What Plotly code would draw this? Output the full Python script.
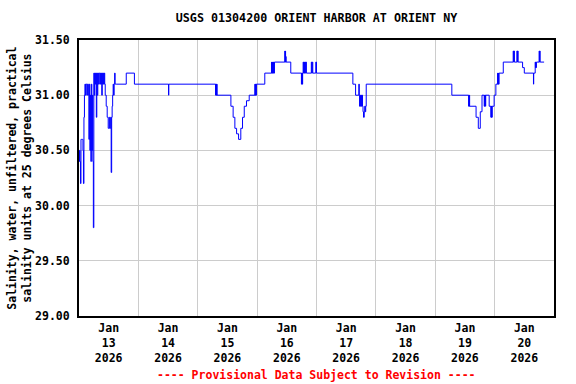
import plotly.graph_objects as go

# ---------------- data ----------------
times = [
    # Jan 13 early, noisy period
    "2026-01-13 00:00", "2026-01-13 00:12", "2026-01-13 00:24", "2026-01-13 00:36",
    "2026-01-13 00:48", "2026-01-13 01:00", "2026-01-13 01:12", "2026-01-13 01:24",
    "2026-01-13 01:36", "2026-01-13 01:48", "2026-01-13 02:00", "2026-01-13 02:12",
    "2026-01-13 02:24", "2026-01-13 02:36", "2026-01-13 02:48", "2026-01-13 03:00",
    "2026-01-13 03:12", "2026-01-13 03:24", "2026-01-13 03:36", "2026-01-13 03:48",
    "2026-01-13 04:00", "2026-01-13 04:12", "2026-01-13 04:24", "2026-01-13 04:36",
    "2026-01-13 04:48", "2026-01-13 05:00", "2026-01-13 05:12", "2026-01-13 05:24",
    "2026-01-13 05:36", "2026-01-13 05:48", "2026-01-13 06:00", "2026-01-13 06:12",
    "2026-01-13 06:24", "2026-01-13 06:36", "2026-01-13 06:48", "2026-01-13 07:00",
    "2026-01-13 07:12", "2026-01-13 07:24", "2026-01-13 07:36", "2026-01-13 07:48",
    "2026-01-13 08:00", "2026-01-13 08:12", "2026-01-13 08:24", "2026-01-13 08:36",
    "2026-01-13 08:48", "2026-01-13 09:00", "2026-01-13 09:12", "2026-01-13 09:24",
    "2026-01-13 09:36", "2026-01-13 09:48", "2026-01-13 10:00", "2026-01-13 10:12",
    "2026-01-13 10:24", "2026-01-13 10:36", "2026-01-13 10:48", "2026-01-13 11:00",
    "2026-01-13 11:12", "2026-01-13 11:24", "2026-01-13 11:36", "2026-01-13 11:48",
    "2026-01-13 12:00", "2026-01-13 12:12", "2026-01-13 12:24", "2026-01-13 12:36",
    "2026-01-13 12:48", "2026-01-13 13:00", "2026-01-13 13:12", "2026-01-13 13:24",
    "2026-01-13 13:36", "2026-01-13 13:48", "2026-01-13 14:00", "2026-01-13 14:12",
    "2026-01-13 14:24", "2026-01-13 14:36", "2026-01-13 14:48", "2026-01-13 15:00",
    "2026-01-13 19:06", "2026-01-13 22:24",
    # Jan 14
    "2026-01-14 12:12", "2026-01-14 12:18",
    # Jan 15
    "2026-01-15 07:12", "2026-01-15 07:18", "2026-01-15 07:24", "2026-01-15 07:30",
    "2026-01-15 07:36", "2026-01-15 07:42", "2026-01-15 07:48",
    "2026-01-15 13:24", "2026-01-15 14:18", "2026-01-15 15:00", "2026-01-15 15:42",
    "2026-01-15 16:30", "2026-01-15 17:24", "2026-01-15 18:06", "2026-01-15 18:48",
    "2026-01-15 19:42", "2026-01-15 20:48",
    "2026-01-15 23:06", "2026-01-15 23:12", "2026-01-15 23:18", "2026-01-15 23:24",
    "2026-01-15 23:30", "2026-01-15 23:36", "2026-01-15 23:42",
    # Jan 16
    "2026-01-16 03:06",
    "2026-01-16 05:48", "2026-01-16 05:54", "2026-01-16 06:06", "2026-01-16 06:12",
    "2026-01-16 06:24", "2026-01-16 06:30", "2026-01-16 06:42", "2026-01-16 06:48",
    "2026-01-16 07:00",
    "2026-01-16 11:12", "2026-01-16 11:18", "2026-01-16 11:24", "2026-01-16 11:30",
    "2026-01-16 11:36", "2026-01-16 11:42",
    "2026-01-16 13:36",
    "2026-01-16 17:54", "2026-01-16 18:00", "2026-01-16 18:06", "2026-01-16 18:12",
    "2026-01-16 18:18", "2026-01-16 18:24",
    "2026-01-16 18:36", "2026-01-16 18:48", "2026-01-16 19:00", "2026-01-16 19:06",
    "2026-01-16 19:18", "2026-01-16 19:30", "2026-01-16 19:42", "2026-01-16 19:54",
    "2026-01-16 21:54", "2026-01-16 22:06", "2026-01-16 22:18", "2026-01-16 22:30",
    "2026-01-16 23:42", "2026-01-17 00:00",
    # Jan 17
    "2026-01-17 14:42", "2026-01-17 15:48", "2026-01-17 17:06", "2026-01-17 17:18",
    "2026-01-17 17:24", "2026-01-17 17:36", "2026-01-17 17:48", "2026-01-17 18:00",
    "2026-01-17 18:12", "2026-01-17 18:24", "2026-01-17 18:36", "2026-01-17 18:48",
    "2026-01-17 19:00", "2026-01-17 19:18", "2026-01-17 19:30", "2026-01-17 19:42",
    "2026-01-17 19:54", "2026-01-17 20:06",
    # Jan 19
    "2026-01-19 06:42",
    "2026-01-19 13:30", "2026-01-19 13:36", "2026-01-19 13:42", "2026-01-19 13:48",
    "2026-01-19 13:54",
    "2026-01-19 16:30", "2026-01-19 17:24", "2026-01-19 18:12", "2026-01-19 18:54",
    "2026-01-19 19:48", "2026-01-19 19:54", "2026-01-19 20:00", "2026-01-19 20:06",
    "2026-01-19 20:18", "2026-01-19 20:24",
    "2026-01-19 21:48",
    "2026-01-19 22:30", "2026-01-19 22:36", "2026-01-19 22:42", "2026-01-19 22:48",
    "2026-01-19 22:54", "2026-01-19 23:00",
    "2026-01-19 23:48",
    # Jan 20
    "2026-01-20 00:30",
    "2026-01-20 01:12", "2026-01-20 01:18", "2026-01-20 01:30", "2026-01-20 01:36",
    "2026-01-20 01:48",
    "2026-01-20 03:30",
    "2026-01-20 07:30", "2026-01-20 07:42", "2026-01-20 07:48", "2026-01-20 08:00",
    "2026-01-20 09:00", "2026-01-20 09:12", "2026-01-20 09:18", "2026-01-20 09:30",
    "2026-01-20 11:18", "2026-01-20 12:00",
    "2026-01-20 15:42", "2026-01-20 15:48",
    "2026-01-20 16:24", "2026-01-20 16:30", "2026-01-20 16:36", "2026-01-20 16:42",
    "2026-01-20 16:54",
    "2026-01-20 18:00", "2026-01-20 18:06", "2026-01-20 18:12", "2026-01-20 18:24",
    "2026-01-20 20:00",
]

salinity = [
    # Jan 13 early, noisy period
    30.4, 30.5, 30.4, 30.2,
    30.6, 30.6, 30.6, 30.6,
    30.5, 30.2, 30.8, 31.0,
    31.1, 31.0, 31.1, 31.1,
    31.0, 31.1, 31.1, 31.0,
    30.6, 31.1, 30.5, 31.0,
    30.4, 31.1, 30.5, 31.0,
    30.4, 29.8, 31.2, 31.0,
    31.2, 31.1, 31.2, 30.8,
    31.2, 31.0, 31.2, 31.1,
    31.2, 31.2, 31.1, 31.2,
    31.1, 31.2, 31.0, 31.2,
    31.1, 31.2, 31.1, 31.2,
    31.1, 31.0, 31.0, 30.9,
    30.9, 30.8, 30.8, 30.7,
    30.7, 30.8, 30.7, 30.7,
    30.8, 30.3, 30.8, 30.9,
    31.0, 31.1, 31.0, 31.1,
    31.2, 31.1, 31.1, 31.1,
    31.2, 31.1,
    # Jan 14
    31.0, 31.1,
    # Jan 15
    31.0, 31.1, 31.0, 31.1,
    31.0, 31.1, 31.0,
    30.9, 30.8, 30.7, 30.65,
    30.6, 30.7, 30.8, 30.9,
    30.95, 31.0,
    31.1, 31.0, 31.1, 31.0,
    31.1, 31.0, 31.1,
    # Jan 16
    31.2,
    31.3, 31.2, 31.3, 31.2,
    31.3, 31.2, 31.3, 31.2,
    31.3,
    31.4, 31.3, 31.4, 31.3,
    31.35, 31.3,
    31.2,
    31.1, 31.2, 31.1, 31.2,
    31.1, 31.2,
    31.3, 31.2, 31.3, 31.2,
    31.3, 31.2, 31.3, 31.2,
    31.3, 31.2, 31.3, 31.2,
    31.3, 31.2,
    # Jan 17
    31.1, 31.0, 31.1, 31.0,
    30.9, 31.0, 30.9, 31.0,
    30.9, 31.0, 30.9, 30.85,
    30.8, 30.85, 30.9, 30.85,
    30.9, 31.1,
    # Jan 19
    31.0,
    30.9, 31.0, 30.9, 31.0,
    30.9,
    30.8, 30.7, 30.85, 31.0,
    30.9, 31.0, 30.9, 31.0,
    30.9, 31.0,
    30.9,
    30.8, 30.9, 30.8, 30.9,
    30.8, 30.9,
    31.0,
    # Jan 20
    31.1,
    31.2, 31.1, 31.2, 31.1,
    31.2,
    31.3,
    31.4, 31.3, 31.4, 31.3,
    31.4, 31.3, 31.4, 31.3,
    31.25, 31.2,
    31.1, 31.2,
    31.3, 31.25, 31.3, 31.25,
    31.3,
    31.4, 31.3, 31.4, 31.3,
    31.3,
]

day_labels = ["Jan<br>13<br>2026", "Jan<br>14<br>2026", "Jan<br>15<br>2026",
              "Jan<br>16<br>2026", "Jan<br>17<br>2026", "Jan<br>18<br>2026",
              "Jan<br>19<br>2026", "Jan<br>20<br>2026"]
label_times = ["2026-01-13 12:00", "2026-01-14 12:00", "2026-01-15 12:00",
               "2026-01-16 12:00", "2026-01-17 12:00", "2026-01-18 12:00",
               "2026-01-19 12:00", "2026-01-20 12:00"]
grid_times = ["2026-01-14", "2026-01-15", "2026-01-16", "2026-01-17",
              "2026-01-18", "2026-01-19", "2026-01-20"]
y_ticks = [29.0, 29.5, 30.0, 30.5, 31.0, 31.5]
y_labels = ["29.00", "29.50", "30.00", "30.50", "31.00", "31.50"]

title_text = "USGS 01304200 ORIENT HARBOR AT ORIENT NY"
y_title = "Salinity, water, unfiltered, practical<br>salinity units at 25 degrees Celsius"
footer = "---- Provisional Data Subject to Revision ----"

# ---------------- figure ----------------
FONT = "DejaVu Sans Mono"

fig = go.Figure(go.Scatter(
    x=times, y=salinity, mode="lines",
    line=dict(color="#0000ff", width=1, shape="hv"),
    hoverinfo="x+y", showlegend=False,
))

fig.update_layout(
    width=576, height=384,
    margin=dict(l=79, r=22, t=40, b=68),
    paper_bgcolor="white", plot_bgcolor="white",
    font=dict(family=FONT, size=11.5, color="black", weight="bold"),
    title=dict(text=title_text, x=0.5, xref="paper", xanchor="center",
               y=1 - 18 / 384, yref="container", yanchor="middle",
               font=dict(family=FONT, size=11.7, color="black", weight="bold")),
    showlegend=False,
)

fig.update_xaxes(
    type="date",
    range=["2026-01-13 00:00", "2026-01-21 00:00"],
    tickmode="array", tickvals=label_times, ticktext=day_labels,
    showgrid=False, ticks="", zeroline=False,
    showline=True, linecolor="black", linewidth=2, mirror=True,
    minor=dict(tickmode="array", tickvals=grid_times, showgrid=True,
               gridcolor="#cccccc", gridwidth=1, ticks=""),
    tickfont=dict(family=FONT, size=11.5, color="black", weight="bold"),
)

fig.update_yaxes(
    range=[29.0, 31.5],
    tickmode="array", tickvals=y_ticks, ticktext=y_labels,
    showgrid=True, gridcolor="#cccccc", gridwidth=1,
    ticks="outside", ticklen=5, tickcolor="rgba(0,0,0,0)", zeroline=False,
    showline=True, linecolor="black", linewidth=2, mirror=True,
    tickfont=dict(family=FONT, size=11.5, color="black", weight="bold"),
)

fig.add_annotation(
    text=y_title, xref="paper", yref="paper", x=-0.127, y=0.5,
    xanchor="center", yanchor="middle", textangle=-90, showarrow=False,
    font=dict(family=FONT, size=11.5, color="black", weight="bold"),
)

fig.add_annotation(
    text=footer, xref="paper", yref="paper", x=0.5, y=-59 / 276,
    xanchor="center", yanchor="middle", showarrow=False,
    font=dict(family=FONT, size=11.5, color="#ff0000", weight="bold"),
)

fig.write_html("out.html")
